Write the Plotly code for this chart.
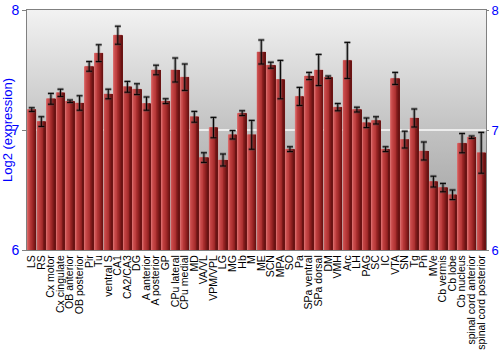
import plotly.graph_objects as go

regions = ["LS", "RS", "Cx motor", "Cx cingulate", "OB anterior", "OB posterior", "Pir", "Tu",
           "ventral S", "CA1", "CA2/CA3", "DG", "A anterior", "A posterior", "GP", "CPu lateral",
           "CPu medial", "MD", "VA/VL", "VPM/VPL", "LG", "MG", "Hb", "M", "ME", "SCN", "MPA",
           "SO", "Pa", "SPa ventral", "SPa dorsal", "DM", "VMH", "Arc", "LH", "PAG", "SC", "IC",
           "VTA", "SN", "Tg", "Pn", "MVe", "Cb vermis", "Cb lobe", "Cb nucleus",
           "spinal cord anterior", "spinal cord posterior"]

expression = [7.17, 7.07, 7.26, 7.31, 7.24, 7.225, 7.53, 7.64,
              7.30, 7.79, 7.36, 7.34, 7.22, 7.50, 7.24, 7.50,
              7.44, 7.11, 6.77, 7.02, 6.75, 6.96, 7.14, 6.96, 7.65, 7.54, 7.42,
              6.84, 7.28, 7.45, 7.50, 7.44, 7.19, 7.58, 7.17, 7.06, 7.08, 6.84,
              7.43, 6.92, 7.10, 6.825, 6.57, 6.52, 6.46, 6.89,
              6.94, 6.81]

sem = [0.015, 0.04, 0.045, 0.03, 0.01, 0.06, 0.04, 0.07,
       0.04, 0.075, 0.045, 0.045, 0.055, 0.04, 0.02, 0.10,
       0.11, 0.045, 0.04, 0.085, 0.05, 0.035, 0.02, 0.12, 0.10, 0.025, 0.16,
       0.02, 0.075, 0.03, 0.13, 0.01, 0.03, 0.15, 0.02, 0.04, 0.03, 0.02,
       0.05, 0.07, 0.075, 0.075, 0.045, 0.035, 0.04, 0.08,
       0.01, 0.17]

y_range = [6, 8]
y_ticks = [6, 7, 8]
x_range = [-0.5, len(regions) - 0.5]

fig = go.Figure()

# background vertical gradient on the base (hidden) subplot
fig.add_trace(go.Scatter(
    x=[x_range[0], x_range[1], x_range[1], x_range[0], x_range[0]],
    y=[y_range[0], y_range[0], y_range[1], y_range[1], y_range[0]],
    fill="toself", mode="none", hoverinfo="skip", showlegend=False,
    fillgradient=dict(type="vertical",
                      colorscale=[[0, "#9a9a9a"], [0.5, "#c2c2c2"], [1, "#f2f2f2"]]),
))
# gridline at 7
fig.add_trace(go.Scatter(x=x_range, y=[7, 7], mode="lines",
                         line=dict(color="rgba(255,255,255,0.95)", width=1.5),
                         showlegend=False, hoverinfo="skip"))

idx = list(range(len(regions)))
base = [y_range[0]] * len(regions)
heights = [v - y_range[0] for v in expression]

bar_w = 0.88
stripe_cols = ["#d86a6a", "#cd5252", "#c44646", "#bd3e3e", "#b53737",
               "#ab3030", "#9e2828", "#8e2020", "#7c1919", "#6a1313"]
n = len(stripe_cols)
sw = bar_w / n
fig.add_trace(go.Bar(x=idx, y=heights, base=base, width=bar_w, xaxis="x2", yaxis="y2",
                     marker=dict(color="#b03030", line=dict(color="rgba(215,140,140,0.8)", width=1)),
                     showlegend=False, hoverinfo="skip"))
for k, c in enumerate(stripe_cols):
    fig.add_trace(go.Bar(x=idx, y=heights, base=base, width=sw, offset=-bar_w / 2 + k * sw,
                         xaxis="x2", yaxis="y2",
                         marker=dict(color=c, line=dict(width=0)),
                         showlegend=False, hoverinfo="skip"))

# error bars: gray shadow + black
fig.add_trace(go.Scatter(x=idx, y=expression, mode="markers", xaxis="x2", yaxis="y2",
                         marker=dict(size=0.1, color="rgba(0,0,0,0)"),
                         error_y=dict(type="data", array=sem, color="rgba(70,70,70,0.45)", thickness=3, width=3),
                         showlegend=False, hoverinfo="skip"))
fig.add_trace(go.Scatter(x=idx, y=expression, mode="markers", xaxis="x2", yaxis="y2",
                         marker=dict(size=0.1, color="rgba(0,0,0,0)"),
                         error_y=dict(type="data", array=sem, color="black", thickness=1, width=3),
                         showlegend=False, hoverinfo="skip"))

# invisible trace for right axis
fig.add_trace(go.Scatter(x=[0], y=[7], xaxis="x2", yaxis="y3", mode="markers",
                         marker=dict(size=0.1, color="rgba(0,0,0,0)"), showlegend=False, hoverinfo="skip"))

fig.update_layout(
    width=500, height=350, barmode="overlay",
    margin=dict(l=27, r=14, t=10, b=100, autoexpand=False),
    paper_bgcolor="white", plot_bgcolor="white",
    font=dict(family="Liberation Sans, Arial, sans-serif", color="black"),
    xaxis=dict(range=x_range, visible=False, showgrid=False, zeroline=False, automargin=False),
    yaxis=dict(range=y_range, visible=False, showgrid=False, zeroline=False, automargin=False),
    xaxis2=dict(range=x_range, overlaying="x", tickmode="array", tickvals=idx, ticktext=regions,
                tickangle=-90, tickfont=dict(size=10.5, color="black"), ticks="", showgrid=False,
                showline=True, linecolor="#808080", linewidth=1, mirror=True, zeroline=False,
                automargin=False),
    yaxis2=dict(range=y_range, overlaying="y", tickvals=y_ticks, tickfont=dict(size=14, color="blue"),
                ticks="outside", ticklen=4, tickcolor="#808080", showgrid=False, zeroline=False,
                showline=True, linecolor="#808080", linewidth=1, side="left", automargin=False,
                title=dict(text="Log2 (expression)", font=dict(size=13, color="blue"), standoff=4)),
    yaxis3=dict(range=y_range, tickvals=y_ticks, overlaying="y", side="right", automargin=False,
                tickfont=dict(size=13, color="blue"), ticks="outside", ticklen=2, tickcolor="#808080",
                showgrid=False, zeroline=False, showline=True, linecolor="#808080", linewidth=1),
)

fig.write_html("out.html")
